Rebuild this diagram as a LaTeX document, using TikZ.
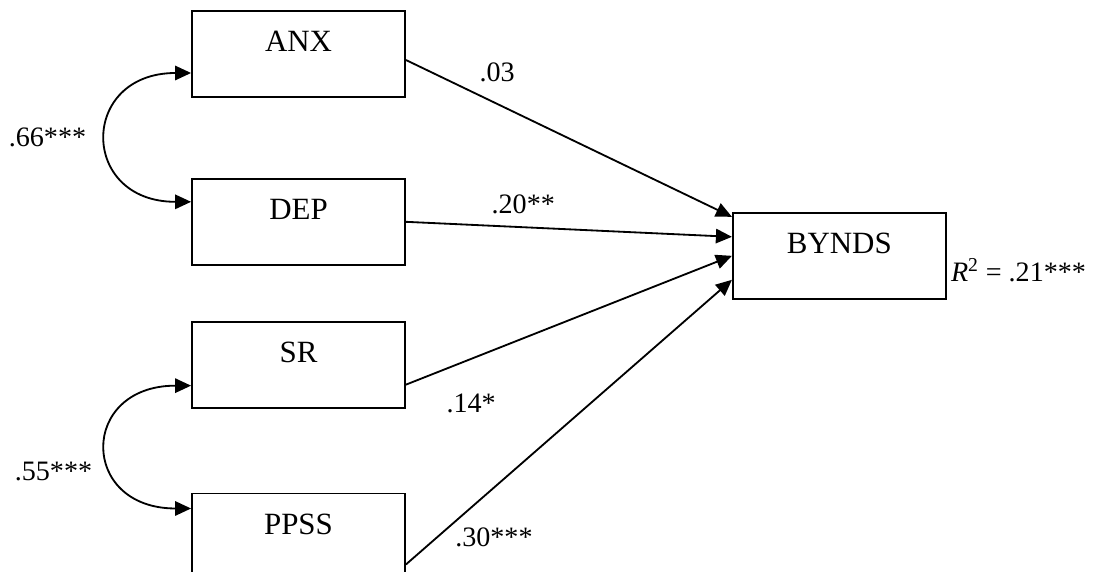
\documentclass[tikz,border=0pt]{standalone}
\usepackage{fontspec}
\setmainfont{Liberation Serif}
\usetikzlibrary{positioning,arrows.meta}
\tikzset{
  varbox/.style={rectangle, draw, line width=1.3pt, minimum width=5.325cm, inner sep=0pt,
                 text height=1.025cm, text depth=1.125cm, font=\fontsize{22}{26}\selectfont},
  coef/.style={inner sep=0pt, font=\fontsize{20}{24}\selectfont},
  effect/.style={-{Triangle[length=4mm,width=3.6mm]}, line width=1.3pt},
  corr/.style={{Triangle[length=4mm,width=3.6mm]}-{Triangle[length=4mm,width=3.6mm]}, line width=1.3pt},
}
\begin{document}
\begin{tikzpicture}[node distance=2cm]
\useasboundingbox (0,0) rectangle (27.375,-14.3);
%Nodes
\node[varbox] (anx) at (7.4625,-1.35) {ANX};
\node[varbox] (dep) [below=of anx] {DEP};
\node[varbox] (sr) [below=1.375cm of dep] {SR};
\node[varbox] (ppss) [below=2.1cm of sr] {PPSS};
\node[varbox] (bynds) [right=8.15cm of dep, yshift=-0.85cm] {BYNDS};
\node[coef, anchor=base west] (rsq) at ([xshift=1mm,yshift=-6.5mm]bynds.east) {\textit{R}\textsuperscript{2} = .21***};

%Lines
\draw[effect] ([yshift=-1.5mm]anx.east) -- ([yshift=9.75mm]bynds.west) node[coef, pos=0.28, above=5.2mm] {.03};
\draw[effect] (dep.east) -- ([yshift=4.75mm]bynds.west) node[coef, pos=0.36, above=3.1mm] {.20**};
\draw[effect] ([yshift=-5mm]sr.east) -- (bynds.west) node[coef, pos=0.2, below=8.5mm] {.14*};
\draw[effect] ([yshift=-7mm]ppss.east) -- ([yshift=-6mm]bynds.west) node[coef, pos=0.27, below=9.75mm] {.30***};

%Correlations
\draw[corr] ([yshift=-4.75mm]anx.west) .. controls +(left:2.8) and +(left:2.8) .. ([yshift=5mm]dep.west) node[coef, pos=0.5, left=5mm] {.66***};
\draw[corr] ([yshift=-5.25mm]sr.west) .. controls +(left:2.8) and +(left:2.8) .. ([yshift=7mm]ppss.west) node[coef, pos=0.5, left=3.5mm, yshift=-6mm] {.55***};
\end{tikzpicture}
\end{document}
